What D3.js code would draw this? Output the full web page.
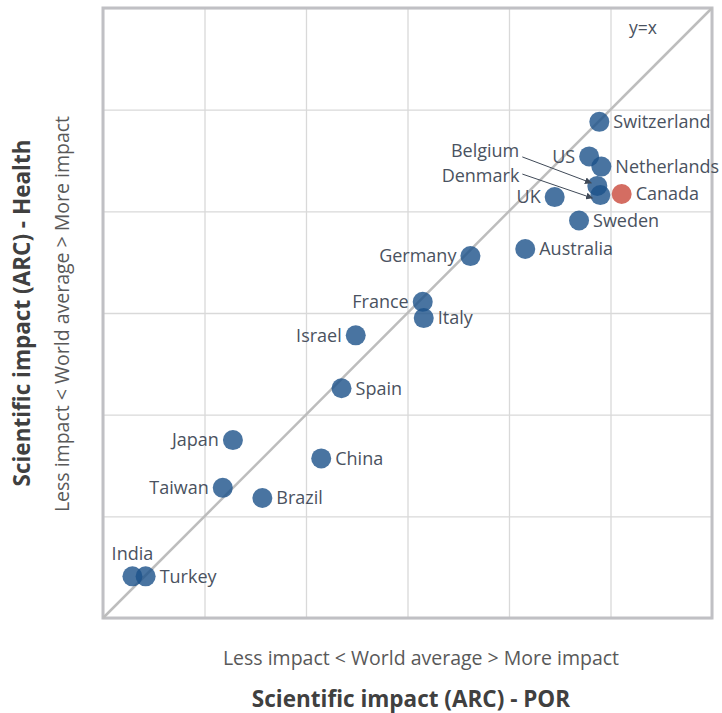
<!DOCTYPE html>
<html>
<head>
<meta charset="utf-8">
<script src="https://cdn.jsdelivr.net/npm/d3@7"></script>
<style>
body { margin: 0; background: #fff; }
text { font-family: "Open Sans", sans-serif; }
</style>
</head>
<body>
<div id="chart-area"></div>
<script>
// data (abstract impact units, 0..6 on both axes)
const countries = ["Switzerland", "US", "Netherlands", "Belgium", "Denmark", "Canada", "UK", "Sweden",
	"Australia", "Germany", "France", "Italy", "Israel", "Spain", "Japan", "China", "Taiwan", "Brazil", "India", "Turkey"]
const porImpact = [4.89, 4.79, 4.91, 4.87, 4.90, 5.11, 4.45, 4.69, 4.16, 3.62, 3.15, 3.16, 2.49, 2.35, 1.28, 2.15, 1.18, 1.57, 0.29, 0.42]
const healthImpact = [4.88, 4.54, 4.44, 4.25, 4.16, 4.17, 4.14, 3.91, 3.63, 3.56, 3.11, 2.95, 2.78, 2.26, 1.75, 1.57, 1.28, 1.18, 0.41, 0.41]
const labelSide = ["r", "l", "r", "arrow", "arrow", "r", "l", "r", "r", "l", "l", "r", "l", "r", "l", "r", "l", "r", "t", "r"]
const highlight = "Canada"
const gridTicks = [0, 1, 2, 3, 4, 5, 6]

const margin = { left: 103, top: 8, right: 10, bottom: 95 }
const width = 722 - margin.left - margin.right
const height = 713 - margin.top - margin.bottom

const svg = d3.select("#chart-area").append("svg")
	.attr("width", 722)
	.attr("height", 713)

const g = svg.append("g")
	.attr("transform", `translate(${margin.left},${margin.top})`)

const x = d3.scaleLinear().domain([0, 6]).range([0, width])
const y = d3.scaleLinear().domain([0, 6]).range([height, 0])

// grid through the library axes
g.append("g")
	.attr("class", "grid")
	.attr("transform", `translate(0,${height})`)
	.call(d3.axisBottom(x).tickValues(gridTicks).tickSize(-height).tickFormat(""))
g.append("g")
	.attr("class", "grid")
	.call(d3.axisLeft(y).tickValues(gridTicks).tickSize(-width).tickFormat(""))
g.selectAll(".grid .domain").remove()
g.selectAll(".grid line").attr("stroke", "#d9d9d9").attr("stroke-width", 1.3)

// frame
g.append("rect")
	.attr("width", width)
	.attr("height", height)
	.attr("fill", "none")
	.attr("stroke", "#c0c0c4")
	.attr("stroke-width", 3)

// y = x
g.append("line")
	.attr("x1", x(0)).attr("y1", y(0))
	.attr("x2", x(6)).attr("y2", y(6))
	.attr("stroke", "#bdbdbd")
	.attr("stroke-width", 2.5)

g.append("text")
	.attr("x", x(5.32))
	.attr("y", y(5.74))
	.attr("font-size", "17.5px")
	.attr("fill", "#4a5260")
	.attr("text-anchor", "middle")
	.text("y=x")

svg.append("defs").append("marker")
	.attr("id", "arrow")
	.attr("viewBox", "0 0 10 10")
	.attr("refX", 9).attr("refY", 5)
	.attr("markerWidth", 7).attr("markerHeight", 7)
	.attr("orient", "auto")
	.append("path")
	.attr("d", "M0,0 L10,5 L0,10 z")
	.attr("fill", "#404a58")

const data = countries.map((c, i) => ({ name: c, px: porImpact[i], hy: healthImpact[i], side: labelSide[i] }))

g.selectAll("circle")
	.data(data)
	.enter()
	.append("circle")
	.attr("cx", d => x(d.px))
	.attr("cy", d => y(d.hy))
	.attr("r", 10)
	.attr("fill", d => d.name === highlight ? "#c9483b" : "#1c5189")
	.attr("fill-opacity", 0.8)

const labels = g.selectAll(".label")
	.data(data)
	.enter()
	.append("text")
	.attr("class", "label")
	.attr("font-size", "18px")
	.attr("fill", "#4a5260")
	.attr("dy", "0.35em")
	.text(d => d.name)

labels.filter(d => d.side === "r")
	.attr("x", d => x(d.px) + 14)
	.attr("y", d => y(d.hy))
labels.filter(d => d.side === "l")
	.attr("x", d => x(d.px) - 14)
	.attr("y", d => y(d.hy))
	.attr("text-anchor", "end")
labels.filter(d => d.side === "t")
	.attr("x", d => x(d.px))
	.attr("y", d => y(d.hy) - 23)
	.attr("text-anchor", "middle")

// Belgium and Denmark get leader arrows
const arrowed = data.filter(d => d.side === "arrow")
const arrowOffsets = [
	{ dx: -78, dy: -35, sx: 3, sy: 6, tx: -6, ty: -3 },
	{ dx: -81, dy: -19, sx: 3, sy: -2, tx: -8, ty: 3 }
]
labels.filter(d => d.side === "arrow")
	.attr("x", (d, i) => x(d.px) + arrowOffsets[i].dx)
	.attr("y", (d, i) => y(d.hy) + arrowOffsets[i].dy)
	.attr("text-anchor", "end")

g.selectAll(".leader")
	.data(arrowed)
	.enter()
	.append("line")
	.attr("class", "leader")
	.attr("x1", (d, i) => x(d.px) + arrowOffsets[i].dx + arrowOffsets[i].sx)
	.attr("y1", (d, i) => y(d.hy) + arrowOffsets[i].dy + arrowOffsets[i].sy)
	.attr("x2", (d, i) => x(d.px) + arrowOffsets[i].tx)
	.attr("y2", (d, i) => y(d.hy) + arrowOffsets[i].ty)
	.attr("stroke", "#404a58")
	.attr("stroke-width", 1)
	.attr("marker-end", "url(#arrow)")

// axis titles
svg.append("text")
	.attr("x", 421)
	.attr("y", 665)
	.attr("font-size", "19.5px")
	.attr("fill", "#595959")
	.attr("text-anchor", "middle")
	.text("Less impact < World average > More impact")

svg.append("text")
	.attr("x", 411)
	.attr("y", 707)
	.attr("font-size", "22.5px")
	.attr("font-weight", "bold")
	.attr("fill", "#404040")
	.attr("text-anchor", "middle")
	.text("Scientific impact (ARC) - POR")

svg.append("text")
	.attr("transform", "translate(30,313) rotate(-90)")
	.attr("font-size", "22.5px")
	.attr("font-weight", "bold")
	.attr("fill", "#404040")
	.attr("text-anchor", "middle")
	.text("Scientific impact (ARC) - Health")

svg.append("text")
	.attr("transform", "translate(69,314) rotate(-90)")
	.attr("font-size", "19.5px")
	.attr("fill", "#595959")
	.attr("text-anchor", "middle")
	.text("Less impact < World average > More impact")
</script>
</body>
</html>
